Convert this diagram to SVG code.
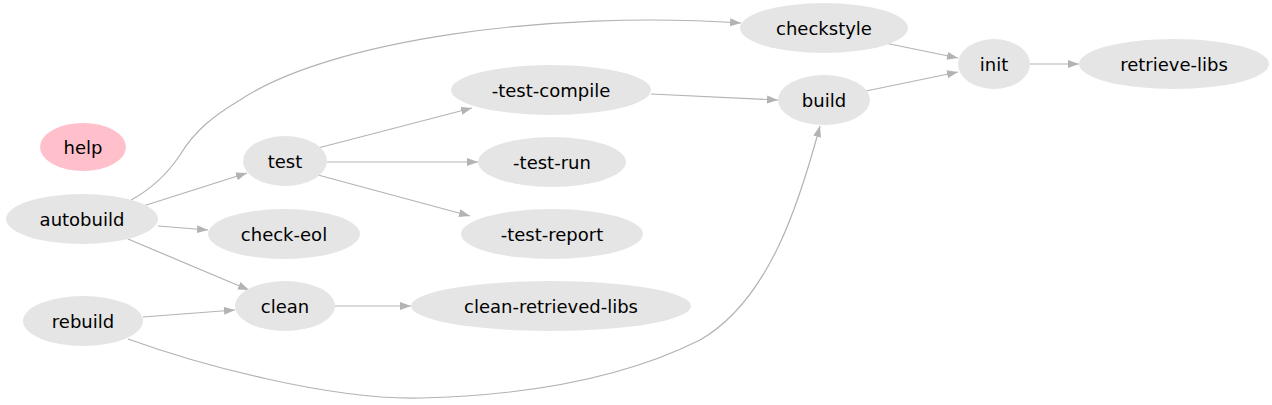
<svg xmlns="http://www.w3.org/2000/svg" width="1272" height="405" viewBox="0 0 1272 405">
<style>
.n ellipse{fill:#e5e5e5;stroke:none}
#help ellipse{fill:#ffc0cb}
.n text{font-family:"DejaVu Sans","Liberation Sans",sans-serif;font-size:18px;fill:#000;text-anchor:middle;dominant-baseline:central}
.e path{fill:none;stroke:#b3b3b3;stroke-width:1.2;marker-end:url(#a)}
</style>
<defs>
<marker id="a" markerUnits="userSpaceOnUse" markerWidth="12" markerHeight="10" refX="11" refY="4" orient="auto">
<path d="M0,0 L11,4 L0,8 Z" fill="#b3b3b3"/>
</marker>
</defs>
<rect width="1272" height="405" fill="#fff"/>
<g class="e" id="edges">
<path d="M131,200 C155,187 170,170 180,155 C195,130 215,115 240,100 C330,40 550,10 741,23"/>
<path d="M140,207 L247,173"/>
<path d="M158,226 L208,230"/>
<path d="M128,239 L249,290"/>
<path d="M143,317 L235,310"/>
<path d="M128,339 C200,365 330,400 420,398 C550,395 640,370 700,340 C770,300 800,200 820,126"/>
<path d="M318,148 L472,108"/>
<path d="M327,162 L478,162"/>
<path d="M318,175 L470,216"/>
<path d="M651,94 L778,100"/>
<path d="M335,306 L411,306"/>
<path d="M885,43 L958,58"/>
<path d="M866,91 L958,72"/>
<path d="M1030,64 L1079,64"/>
</g>
<g class="n" id="help"><ellipse cx="83" cy="147" rx="43" ry="24"/><text x="83" y="147">help</text></g>
<g class="n" id="autobuild"><ellipse cx="82" cy="219" rx="76" ry="25"/><text x="82" y="219">autobuild</text></g>
<g class="n" id="rebuild"><ellipse cx="83" cy="321" rx="60" ry="25"/><text x="83" y="321">rebuild</text></g>
<g class="n" id="test"><ellipse cx="285" cy="161" rx="42" ry="25"/><text x="285" y="161">test</text></g>
<g class="n" id="check-eol"><ellipse cx="284" cy="234" rx="76" ry="25"/><text x="284" y="234">check-eol</text></g>
<g class="n" id="clean"><ellipse cx="285" cy="306" rx="50" ry="25"/><text x="285" y="306">clean</text></g>
<g class="n" id="test-compile"><ellipse cx="551" cy="90" rx="100" ry="25"/><text x="551" y="90">-test-compile</text></g>
<g class="n" id="test-run"><ellipse cx="552" cy="162" rx="74" ry="25"/><text x="552" y="162">-test-run</text></g>
<g class="n" id="test-report"><ellipse cx="552" cy="234" rx="91" ry="25"/><text x="552" y="234">-test-report</text></g>
<g class="n" id="clean-retrieved-libs"><ellipse cx="551" cy="306" rx="140" ry="25"/><text x="551" y="306">clean-retrieved-libs</text></g>
<g class="n" id="checkstyle"><ellipse cx="824" cy="28" rx="84" ry="25"/><text x="824" y="28">checkstyle</text></g>
<g class="n" id="build"><ellipse cx="824" cy="100" rx="46" ry="25"/><text x="824" y="100">build</text></g>
<g class="n" id="init"><ellipse cx="994" cy="64" rx="36" ry="25"/><text x="994" y="64">init</text></g>
<g class="n" id="retrieve-libs"><ellipse cx="1174" cy="64" rx="95" ry="25"/><text x="1174" y="64">retrieve-libs</text></g>
</svg>
